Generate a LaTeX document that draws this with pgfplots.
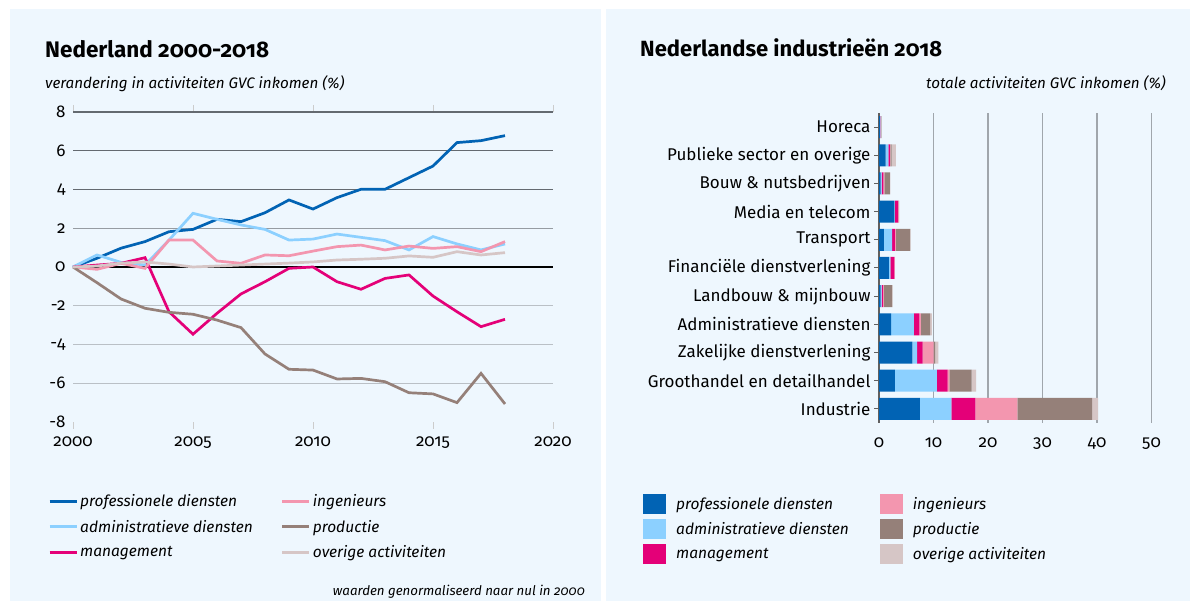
\documentclass[border=0pt]{standalone}
\usepackage{fontspec}
\setmainfont{Fira Sans}[RawFeature=+onum]
\usepackage{pgfplots}
\pgfplotsset{compat=1.18}
\definecolor{bg}{RGB}{238,247,254}
\definecolor{cProf}{RGB}{1,99,180}
\definecolor{cAdm}{RGB}{140,208,255}
\definecolor{cMan}{RGB}{228,0,120}
\definecolor{cIng}{RGB}{243,150,175}
\definecolor{cProd}{RGB}{149,128,121}
\definecolor{cOv}{RGB}{214,198,198}
\definecolor{gridA}{RGB}{100,106,112}
\definecolor{gridB}{RGB}{150,156,162}
\definecolor{gridC}{RGB}{186,192,198}
\definecolor{gridR}{RGB}{160,166,172}
\begin{document}
\begin{tikzpicture}[x=1pt,y=1pt]
\fill[white] (0pt,0pt) rectangle (1190pt,601pt);
\fill[bg] (10pt,0pt) rectangle (601pt,592pt);
\fill[bg] (606pt,0pt) rectangle (1190pt,592pt);
\node[anchor=base west, inner sep=0pt, font=\bfseries\fontsize{22.5}{22.5}\selectfont] at (45pt,543pt) {Nederland 2000-2018};
\node[anchor=base west, inner sep=0pt, font=\itshape\fontsize{15.2}{15.2}\selectfont] at (45pt,512pt) {verandering in activiteiten GVC inkomen (\%)};
\node[anchor=base west, inner sep=0pt, font=\bfseries\fontsize{22}{22}\selectfont] at (640pt,544pt) {Nederlandse industrieën 2018};
\node[anchor=base east, inner sep=0pt, font=\itshape\fontsize{15.2}{15.2}\selectfont] at (1166pt,512pt) {totale activiteiten GVC inkomen (\%)};
\node[anchor=base east, inner sep=0pt, font=\itshape\fontsize{13.3}{13.3}\selectfont] at (585pt,5pt) {waarden genormaliseerd naar nul in 2000};

\begin{axis}[
  at={(73pt,179pt)}, anchor=south west, scale only axis,
  width=480pt, height=310pt,
  xmin=2000, xmax=2020, ymin=-8, ymax=8,
  xtick={2000,2005,...,2020},
  ytick={-8,-6,...,8},
  axis line style={draw=none},
  tick align=outside, major tick length=7pt,
  xtick style={draw=gray!40, line width=1pt},
  ytick style={draw=none},
  /pgf/number format/assume math mode=true,
  /pgf/number format/set thousands separator={},
  xticklabel style={font=\fontsize{17}{17}\selectfont, yshift=-4pt},
  yticklabel style={font=\fontsize{17}{17}\selectfont, xshift=3pt},
  clip=false,
  legend style={at={(-0.0583,-0.22)}, anchor=north west, draw=none, fill=none,
    font=\itshape\fontsize{15.5}{15.5}\selectfont, row sep=8pt,
    /tikz/every even column/.append style={column sep=26pt},
    cells={anchor=west}},
  legend columns=3, transpose legend,
  legend image code/.code={\draw[#1, line width=3pt] (0pt,0pt) -- (27pt,0pt);},
]
\draw[gridA, line width=1.3pt] (axis cs:2000,8) -- (axis cs:2020,8);
\draw[gridA, line width=1.3pt] (axis cs:2000,6) -- (axis cs:2020,6);
\draw[gridA, line width=1.3pt] (axis cs:2000,4) -- (axis cs:2020,4);
\draw[gridB, line width=1.3pt] (axis cs:2000,2) -- (axis cs:2020,2);
\draw[gridC, line width=1.3pt] (axis cs:2000,-2) -- (axis cs:2020,-2);
\draw[gridC, line width=1.3pt] (axis cs:2000,-4) -- (axis cs:2020,-4);
\draw[gridC, line width=1.3pt] (axis cs:2000,-6) -- (axis cs:2020,-6);
\addplot[black, line width=1.8pt, forget plot] coordinates {(2000,0) (2020,0)};
\addplot[cProf, line width=2.7pt] coordinates {
(2000,0) (2001,0.45) (2002,0.97) (2003,1.31) (2004,1.82) (2005,1.94) (2006,2.46) (2007,2.34) (2008,2.80) (2009,3.46)
(2010,2.99) (2011,3.58) (2012,4.01) (2013,4.01) (2014,4.61) (2015,5.21) (2016,6.42) (2017,6.52) (2018,6.78)};
\addlegendentry{professionele diensten}
\addplot[cAdm, line width=2.7pt] coordinates {
(2000,0) (2001,0.62) (2002,0.24) (2003,0.10) (2004,1.39) (2005,2.77) (2006,2.46) (2007,2.17) (2008,1.94) (2009,1.39)
(2010,1.44) (2011,1.70) (2012,1.53) (2013,1.36) (2014,0.88) (2015,1.57) (2016,1.19) (2017,0.88) (2018,1.19)};
\addlegendentry{administratieve diensten}
\addplot[cMan, line width=2.7pt] coordinates {
(2000,0) (2001,0.10) (2002,0.19) (2003,0.48) (2004,-2.31) (2005,-3.47) (2006,-2.39) (2007,-1.39) (2008,-0.76) (2009,-0.07)
(2010,0.0) (2011,-0.76) (2012,-1.15) (2013,-0.59) (2014,-0.41) (2015,-1.50) (2016,-2.31) (2017,-3.08) (2018,-2.70)};
\addlegendentry{management}
\addplot[cIng, line width=2.7pt] coordinates {
(2000,0) (2001,-0.12) (2002,0.19) (2003,-0.07) (2004,1.39) (2005,1.39) (2006,0.31) (2007,0.19) (2008,0.62) (2009,0.58)
(2010,0.82) (2011,1.05) (2012,1.13) (2013,0.88) (2014,1.08) (2015,0.96) (2016,1.05) (2017,0.79) (2018,1.31)};
\addlegendentry{ingenieurs}
\addplot[cProd, line width=2.7pt] coordinates {
(2000,0) (2001,-0.81) (2002,-1.65) (2003,-2.13) (2004,-2.34) (2005,-2.44) (2006,-2.74) (2007,-3.13) (2008,-4.49) (2009,-5.28)
(2010,-5.32) (2011,-5.78) (2012,-5.75) (2013,-5.92) (2014,-6.49) (2015,-6.55) (2016,-7.00) (2017,-5.49) (2018,-7.07)};
\addlegendentry{productie}
\addplot[cOv, line width=2.7pt] coordinates {
(2000,0) (2001,0.05) (2002,0.20) (2003,0.26) (2004,0.15) (2005,0.0) (2006,0.05) (2007,0.10) (2008,0.15) (2009,0.20)
(2010,0.26) (2011,0.36) (2012,0.40) (2013,0.45) (2014,0.57) (2015,0.50) (2016,0.79) (2017,0.62) (2018,0.74)};
\addlegendentry{overige activiteiten}
\end{axis}

\begin{axis}[
  at={(879pt,178pt)}, anchor=south west, scale only axis,
  width=272.5pt, height=310pt,
  xbar stacked, bar width=22pt,
  xmin=0, xmax=50, ymin=-0.5, ymax=10.5,
  xtick={0,10,...,50}, ytick={0,...,10},
  yticklabels={Industrie, Groothandel en detailhandel, Zakelijke dienstverlening, Administratieve diensten, Landbouw \& mijnbouw, Financiële dienstverlening, Transport, Media en telecom, Bouw \& nutsbedrijven, Publieke sector en overige, Horeca},
  axis x line*=bottom, axis y line*=left,
  x axis line style={draw=none},
  y axis line style={draw=gray!75!black, line width=1.5pt},
  xmajorgrids, grid style={gridR, line width=1.2pt},
  tick align=outside, major tick length=5pt,
  xtick style={draw=none},
  ytick style={draw=gray!75!black, line width=1pt},
  /pgf/number format/assume math mode=true,
  xticklabel style={font=\fontsize{17}{17}\selectfont, yshift=-6pt},
  yticklabel style={font=\fontsize{17}{17}\selectfont},
  clip=false,
  legend style={at={(-0.877,-0.222)}, anchor=north west, draw=none, fill=none,
    font=\itshape\fontsize{15.5}{15.5}\selectfont, row sep=5pt,
    /tikz/every odd column/.append style={column sep=8pt},
    /tikz/every even column/.append style={column sep=29pt},
    cells={anchor=west}},
  legend columns=3, transpose legend,
  legend image code/.code={\fill[#1, draw=none] (0pt,-10pt) rectangle (23pt,10pt);},
]
\addplot[fill=cProf, draw=none] coordinates {(7.5,0) (2.9,1) (6.1,2) (2.2,3) (0.3,4) (1.8,5) (0.9,6) (2.8,7) (0.3,8) (1.2,9) (0.15,10)};
\addlegendentry{professionele diensten}
\addplot[fill=cAdm, draw=none] coordinates {(5.8,0) (7.7,1) (0.9,2) (4.2,3) (0.2,4) (0.3,5) (1.5,6) (0.1,7) (0.2,8) (0.5,9) (0.1,10)};
\addlegendentry{administratieve diensten}
\addplot[fill=cMan, draw=none] coordinates {(4.4,0) (2.0,1) (1.0,2) (1.0,3) (0.2,4) (0.7,5) (0.5,6) (0.6,7) (0.3,8) (0.3,9) (0.05,10)};
\addlegendentry{management}
\addplot[fill=cIng, draw=none] coordinates {(7.7,0) (0.3,1) (2.0,2) (0.3,3) (0.2,4) (0.1,5) (0.2,6) (0.1,7) (0.2,8) (0.1,9) (0.05,10)};
\addlegendentry{ingenieurs}
\addplot[fill=cProd, draw=none] coordinates {(13.7,0) (4.1,1) (0.3,2) (1.7,3) (1.5,4) (0.0,5) (2.6,6) (0.1,7) (1.0,8) (0.2,9) (0.1,10)};
\addlegendentry{productie}
\addplot[fill=cOv, draw=none] coordinates {(1.1,0) (0.8,1) (0.6,2) (0.3,3) (0.1,4) (0.0,5) (0.1,6) (0.0,7) (0.1,8) (0.8,9) (0.05,10)};
\addlegendentry{overige activiteiten}
\end{axis}
\end{tikzpicture}
\end{document}
